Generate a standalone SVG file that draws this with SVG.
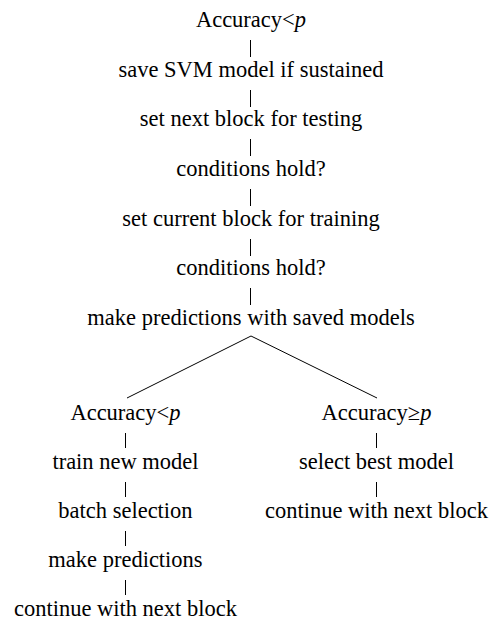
<svg xmlns="http://www.w3.org/2000/svg" width="491" height="621" viewBox="0 0 491 621">
  <rect width="491" height="621" fill="#fff"/>

  <!-- connectors: vertical links between stacked steps, plus the split into two branches -->
  <g id="connectors" stroke="#000" stroke-width="1" fill="none">
    <line x1="250.5" y1="40" x2="250.5" y2="57"/>
    <line x1="250.5" y1="90" x2="250.5" y2="107"/>
    <line x1="250.5" y1="139" x2="250.5" y2="156"/>
    <line x1="250.5" y1="189" x2="250.5" y2="206"/>
    <line x1="250.5" y1="239" x2="250.5" y2="256"/>
    <line x1="250.5" y1="288" x2="250.5" y2="305"/>
    <line x1="251" y1="336" x2="127" y2="398"/>
    <line x1="251" y1="336" x2="377" y2="398"/>
    <line x1="125.5" y1="433" x2="125.5" y2="448"/>
    <line x1="125.5" y1="482" x2="125.5" y2="497"/>
    <line x1="125.5" y1="531" x2="125.5" y2="546"/>
    <line x1="125.5" y1="580" x2="125.5" y2="595"/>
    <line x1="376.5" y1="433" x2="376.5" y2="448"/>
    <line x1="376.5" y1="482" x2="376.5" y2="497"/>
  </g>

  <!-- labels are left-aligned at x positions computed from the Times metrics -->
  <g font-size="22.5" fill="#000">
    <!-- main chain -->
    <g id="n-root"><text x="195.9" y="27" font-family="Liberation Serif">Accuracy&#60;<tspan font-style="italic">p</tspan></text></g>
    <g id="n-save"><text x="118.5" y="77" font-family="Liberation Serif">save SVM model if sustained</text></g>
    <g id="n-next-test"><text x="139.8" y="126" font-family="Liberation Serif">set next block for testing</text></g>
    <g id="n-cond1"><text x="176.3" y="176" font-family="Liberation Serif">conditions hold?</text></g>
    <g id="n-cur-train"><text x="122.3" y="226" font-family="Liberation Serif">set current block for training</text></g>
    <g id="n-cond2"><text x="176.3" y="275" font-family="Liberation Serif">conditions hold?</text></g>
    <g id="n-predict-saved"><text x="87.3" y="325" font-family="Liberation Serif">make predictions with saved models</text></g>

    <!-- left branch -->
    <g id="n-low"><text x="70.4" y="420" font-family="Liberation Serif">Accuracy&#60;<tspan font-style="italic">p</tspan></text></g>
    <g id="n-train"><text x="52.4" y="469" font-family="Liberation Serif">train new model</text></g>
    <g id="n-batch"><text x="58.3" y="518" font-family="Liberation Serif">batch selection</text></g>
    <g id="n-predict"><text x="48.3" y="567" font-family="Liberation Serif">make predictions</text></g>
    <g id="n-continue-l"><text x="13.9" y="616" font-family="Liberation Serif">continue with next block</text></g>

    <!-- right branch -->
    <g id="n-high"><text x="321.6" y="420" font-family="Liberation Serif">Accuracy&#8805;<tspan font-style="italic">p</tspan></text></g>
    <g id="n-best"><text x="299.0" y="469" font-family="Liberation Serif">select best model</text></g>
    <g id="n-continue-r"><text x="264.9" y="518" font-family="Liberation Serif">continue with next block</text></g>
  </g>
</svg>
